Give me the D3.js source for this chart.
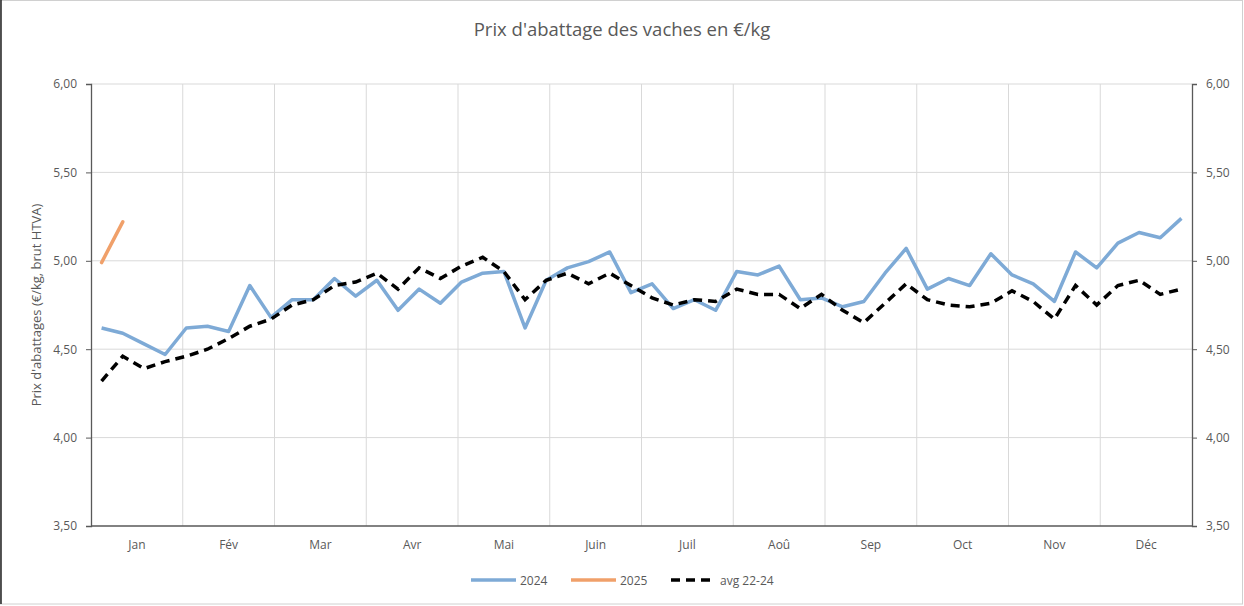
<!DOCTYPE html>
<html><head><meta charset="utf-8">
<script src="https://cdn.jsdelivr.net/npm/d3@7"></script>
<style>body{margin:0;background:#fff}svg{display:block}text{font-family:"Open Sans","Noto Sans",sans-serif}</style>
</head><body><svg id="c" width="1244" height="606"></svg>
<script>
const months = ["Jan","Fév","Mar","Avr","Mai","Juin","Juil","Aoû","Sep","Oct","Nov","Déc"];
const yTicks = [3.5,4.0,4.5,5.0,5.5,6.0];
const s2024 = [4.62,4.59,4.53,4.47,4.62,4.63,4.60,4.86,4.68,4.78,4.78,4.90,4.80,4.89,4.72,4.84,4.76,4.88,4.93,4.94,
  4.62,4.89,4.96,4.995,5.05,4.82,4.87,4.73,4.78,4.72,4.94,4.92,4.97,4.78,4.79,4.74,4.77,4.93,5.07,4.84,
  4.90,4.86,5.04,4.92,4.87,4.77,5.05,4.96,5.10,5.16,5.13,5.24];
const s2025 = [4.99,5.22];
const sAvg = [4.32,4.46,4.39,4.43,4.46,4.50,4.56,4.63,4.67,4.75,4.78,4.86,4.88,4.93,4.84,4.96,4.90,4.97,5.02,4.94,
  4.78,4.89,4.93,4.87,4.93,4.86,4.79,4.75,4.78,4.77,4.84,4.81,4.81,4.73,4.81,4.72,4.65,4.76,4.87,4.78,
  4.75,4.74,4.76,4.83,4.77,4.67,4.86,4.75,4.86,4.89,4.81,4.84];
const seriesNames = ["2024","2025","avg 22-24"];

const svg = d3.select("#c");
const L = 91, R = 1192, T = 84, B = 526;
const weeks = d3.range(52);
const x = d3.scaleBand().domain(weeks).range([L, R]);
const xm = d3.scaleBand().domain(months).range([L, R]);
const y = d3.scaleLinear().domain([3.5, 6]).range([B, T]);
const fmt = v => d3.format(".2f")(v).replace(".", ",");
const grey = "#595959";

// frame
svg.append("rect").attr("x",0.5).attr("y",0.5).attr("width",1242).attr("height",603.5)
  .attr("fill","none").attr("stroke","#d0d0d0");
svg.append("line").attr("x1",1).attr("x2",1).attr("y1",0).attr("y2",604).attr("stroke","#222").attr("stroke-width",1.5);

// grid
svg.append("g").selectAll("line").data(yTicks.slice(1)).join("line")
  .attr("x1",L).attr("x2",R).attr("y1",d=>y(d)).attr("y2",d=>y(d))
  .attr("stroke","#d9d9d9").attr("stroke-width",1);
svg.append("g").selectAll("line").data(months.slice(1)).join("line")
  .attr("x1",d=>xm(d)).attr("x2",d=>xm(d)).attr("y1",T).attr("y2",B)
  .attr("stroke","#d9d9d9").attr("stroke-width",1);

// axes
const yl = svg.append("g").attr("transform",`translate(${L},0)`)
  .call(d3.axisLeft(y).tickValues(yTicks).tickFormat(fmt).tickSize(5).tickPadding(9));
const yr = svg.append("g").attr("transform",`translate(${R},0)`)
  .call(d3.axisRight(y).tickValues(yTicks).tickFormat(fmt).tickSize(5).tickPadding(9));
const xa = svg.append("g").attr("transform",`translate(0,${B})`)
  .call(d3.axisBottom(xm).tickSize(0).tickPadding(14));
[yl,yr,xa].forEach(g=>{
  g.select(".domain").attr("stroke","#595959").attr("stroke-width",1.3);
  g.selectAll(".tick line").attr("stroke","#595959");
  g.selectAll("text").attr("fill",grey).style("font-size","12px").style("font-family",'"Open Sans",sans-serif');
});
xa.select(".domain").attr("d",`M${L},0H${R}`);

// title
svg.append("text").attr("x",622).attr("y",36).attr("text-anchor","middle")
  .attr("fill",grey).style("font-size","18.5px").text("Prix d'abattage des vaches en €/kg");
// y label
svg.append("text").attr("transform",`translate(41,${(T+B)/2}) rotate(-90)`).attr("text-anchor","middle")
  .attr("fill",grey).style("font-size","13px").text("Prix d'abattages (€/kg, brut HTVA)");

const line = d3.line().x((d,i)=>x(i)+x.bandwidth()/2).y(d=>y(d));
svg.append("path").datum(s2024).attr("d",line).attr("fill","none")
  .attr("stroke","#7eaad6").attr("stroke-width",3.5).attr("stroke-linejoin","round");
svg.append("path").datum(sAvg).attr("d",line).attr("fill","none")
  .attr("stroke","#000").attr("stroke-width",3.5).attr("stroke-dasharray","9,6");
svg.append("path").datum(s2025).attr("d",line).attr("fill","none")
  .attr("stroke","#f0a06a").attr("stroke-width",3.5).attr("stroke-linecap","round");

// legend
const leg = [{n:seriesNames[0],c:"#7eaad6",d:null,x:471},{n:seriesNames[1],c:"#f0a06a",d:null,x:571},{n:seriesNames[2],c:"#000",d:"9,6",x:671}];
const lg = svg.append("g").selectAll("g").data(leg).join("g").attr("transform",d=>`translate(${d.x},580)`);
lg.append("line").attr("x1",0).attr("x2",45).attr("stroke",d=>d.c).attr("stroke-width",3.5)
  .attr("stroke-dasharray",d=>d.d);
lg.append("text").attr("x",49).attr("y",4.5).attr("fill",grey).style("font-size","12px").text(d=>d.n);
</script></body></html>
